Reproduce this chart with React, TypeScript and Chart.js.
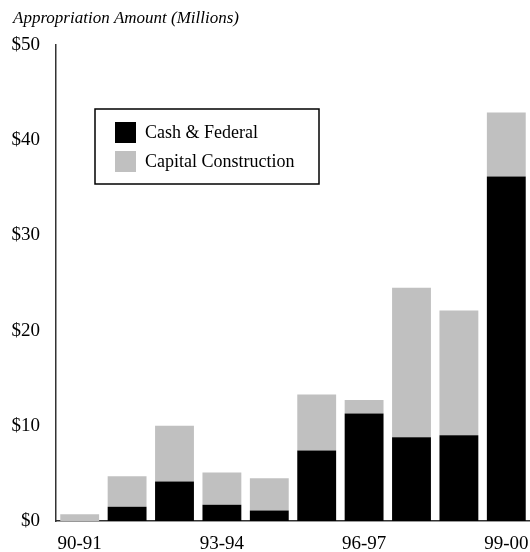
import React, { useEffect, useRef } from "react";
import { Chart, registerables } from "chart.js";

Chart.register(...registerables);

const categories = ["90-91", "91-92", "92-93", "93-94", "94-95", "95-96", "96-97", "97-98", "98-99", "99-00"];
const cashFederal = [0, 1.5, 4.15, 1.7, 1.1, 7.4, 11.3, 8.8, 9.0, 36.2];
const capitalConstruction = [0.7, 3.2, 5.85, 3.4, 3.4, 5.9, 1.4, 15.7, 13.1, 6.7];
const yTicks = [0, 10, 20, 30, 40, 50];
const titleText = "Appropriation Amount (Millions)";
const seriesNames = ["Cash & Federal", "Capital Construction"];
const seriesColors = ["#000000", "#c0c0c0"];

const FONT = "'Liberation Serif', 'Times New Roman', serif";

const overlayPlugin = {
  id: "overlay",
  afterDraw(chart: any) {
    const ctx = chart.ctx;
    const area = chart.chartArea;
    ctx.save();
    // title
    ctx.fillStyle = "#000";
    ctx.font = `italic 17px ${FONT}`;
    ctx.textAlign = "left";
    ctx.textBaseline = "middle";
    ctx.fillText(titleText, 13, 19);
    // legend box
    const bx = area.left + 39;
    const by = area.top + 64;
    const bw = 224;
    const bh = 75;
    ctx.fillStyle = "#fff";
    ctx.fillRect(bx, by, bw, bh);
    ctx.strokeStyle = "#000";
    ctx.lineWidth = 1.5;
    ctx.strokeRect(bx, by, bw, bh);
    chart.data.datasets.forEach((ds: any, i: number) => {
      const sy = by + 13 + i * 29;
      ctx.fillStyle = ds.backgroundColor;
      ctx.fillRect(bx + 20, sy, 21, 21);
      ctx.fillStyle = "#000";
      ctx.font = `18px ${FONT}`;
      ctx.textBaseline = "middle";
      ctx.fillText(ds.label, bx + 50, sy + 11);
    });
    ctx.restore();
  },
};

export default function App() {
  const ref = useRef<HTMLCanvasElement>(null);
  useEffect(() => {
    document.body.style.margin = "0";
    const chart = new Chart(ref.current as HTMLCanvasElement, {
      type: "bar",
      data: {
        labels: categories,
        datasets: [
          { label: seriesNames[0], data: cashFederal, backgroundColor: seriesColors[0], borderWidth: 0 },
          { label: seriesNames[1], data: capitalConstruction, backgroundColor: seriesColors[1], borderWidth: 0 },
        ],
      },
      options: {
        responsive: false,
        animation: false,
        layout: { padding: { top: 45, right: 0, bottom: 0, left: 0 } },
        plugins: { legend: { display: false }, title: { display: false }, tooltip: { enabled: false } },
        datasets: { bar: { barPercentage: 0.82, categoryPercentage: 1 } },
        scales: {
          x: {
            stacked: true,
            grid: { display: false, drawTicks: false },
            border: { display: true, color: "#333", width: 1.5 },
            ticks: {
              autoSkip: false,
              maxRotation: 0,
              padding: 12,
              color: "#000",
              font: { family: FONT, size: 19 },
              callback: (_v: any, i: number) => (i % 3 === 0 ? categories[i] : ""),
            },
            afterFit: (s: any) => {
              s.height = 31;
              s.paddingLeft = 0;
              s.paddingRight = 0;
            },
          },
          y: {
            stacked: true,
            min: 0,
            max: 50,
            grid: { display: false, drawTicks: false },
            border: { display: true, color: "#333", width: 1.5 },
            afterBuildTicks: (s: any) => {
              s.ticks = yTicks.map((v) => ({ value: v }));
            },
            ticks: {
              padding: 16,
              color: "#000",
              font: { family: FONT, size: 19 },
              callback: (v: any) => "$" + v,
            },
            afterFit: (s: any) => {
              s.width = 56;
              s.paddingTop = 0;
              s.paddingBottom = 0;
            },
          },
        },
      },
      plugins: [overlayPlugin],
    });
    return () => chart.destroy();
  }, []);
  return <canvas ref={ref} width={530} height={552} style={{ display: "block" }} />;
}
